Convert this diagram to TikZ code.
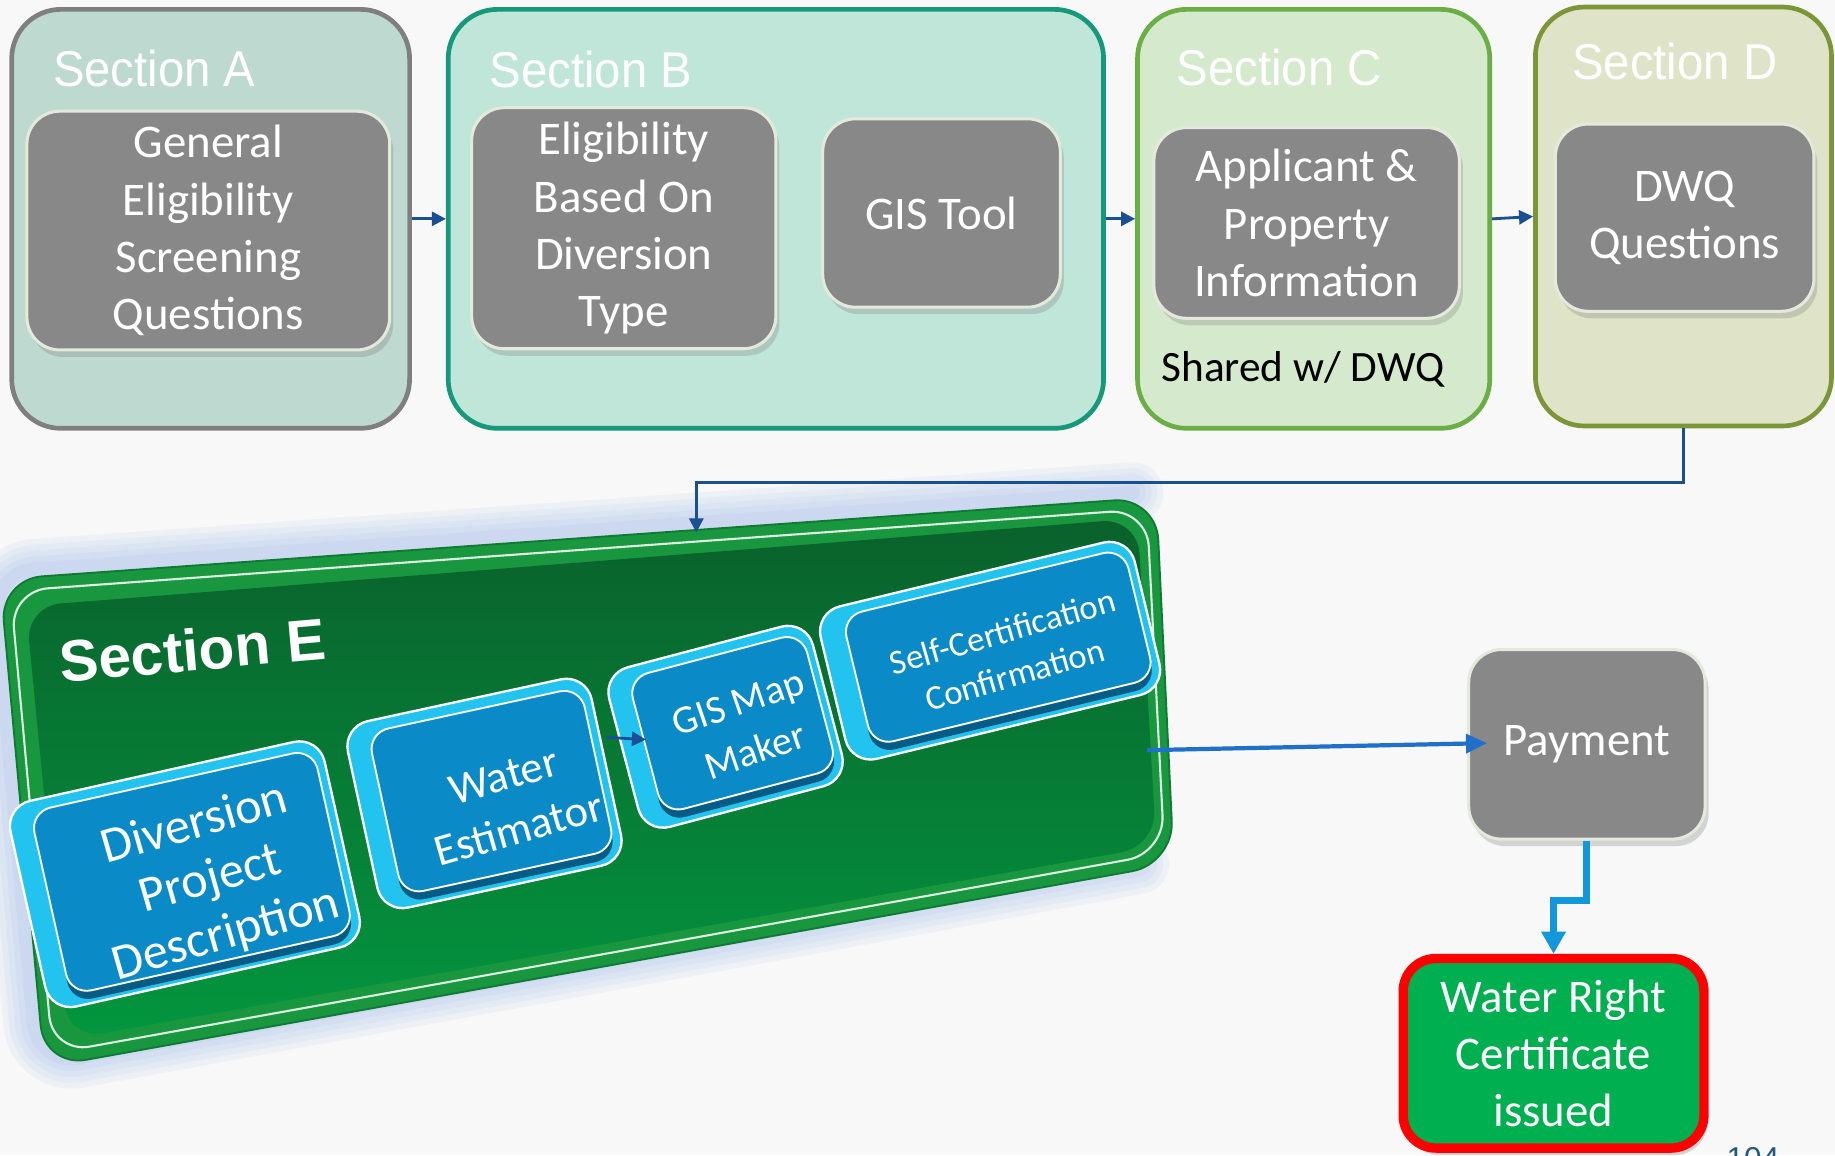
\documentclass[tikz,border=0pt]{standalone}
\usepackage{fontspec}
\setmainfont{Carlito}
\newfontfamily\narrowfont[FakeStretch=0.94]{Liberation Sans}
\newfontfamily\arialfont{Liberation Sans}
\usetikzlibrary{arrows.meta,calc,shadows}
\definecolor{bgcol}{HTML}{F7F8F7}
\definecolor{secAfill}{HTML}{BDD9D0}
\definecolor{secAline}{HTML}{7F7F7F}
\definecolor{secBfill}{HTML}{C0E6DA}
\definecolor{secBline}{HTML}{16997A}
\definecolor{secCfill}{HTML}{D5EACD}
\definecolor{secCline}{HTML}{6AAE45}
\definecolor{secDfill}{HTML}{DFE4C9}
\definecolor{secDline}{HTML}{7C9538}
\definecolor{boxgray}{HTML}{888888}
\definecolor{boxedge}{HTML}{E4EADB}
\definecolor{flowblue}{HTML}{1B4F94}
\definecolor{payblue}{HTML}{1F6FCB}
\definecolor{certblue}{HTML}{1297DB}
\definecolor{certgreen}{HTML}{00B050}
\definecolor{certred}{HTML}{FF0000}
\definecolor{rimgreen}{HTML}{18973F}
\definecolor{rimedge}{HTML}{0E7A33}
\definecolor{facetop}{HTML}{0A612C}
\definecolor{facebot}{HTML}{03963F}
\definecolor{glowblue}{HTML}{3F78E0}
\definecolor{btncyan}{HTML}{22C4EF}
\definecolor{facecyan}{HTML}{0A8BC7}
\definecolor{btndeep}{HTML}{075C86}
\definecolor{numcol}{HTML}{245B7C}
\begin{document}
\begin{tikzpicture}[x=0.5pt,y=-0.5pt,
  secbox/.style={rounded corners=21pt, line width=2pt},
  sectitle/.style={anchor=base west, inner sep=0pt, text=white, font=\narrowfont\fontsize{21.5pt}{21.5pt}\selectfont},
  graybox/.style={fill=boxgray, draw=boxedge, line width=1.3pt, rounded corners=14pt, text=white, align=center, inner sep=2pt, font=\fontsize{20pt}{24.5pt}\selectfont, drop shadow={opacity=0.3, shadow xshift=1.5pt, shadow yshift=-3pt}},
  flow/.style={draw=flowblue, line width=1.2pt, -{Triangle[length=6pt,width=6pt]}},
  btnside/.style={fill=btncyan, draw=white, line width=1pt, rounded corners=11pt},
  btndark/.style={fill=btndeep, rounded corners=9pt},
  btnfacestyle/.style={fill=facecyan, draw=white, line width=0.8pt, rounded corners=9pt},
  btntext/.style={text=white, align=center, inner sep=0pt},
]
\useasboundingbox (0,0) rectangle (1568,987);
\fill[bgcol] (0,0) rectangle (1568,987);

% ---------- Sections A-D ----------
\node[secbox, draw=secAline, fill=secAfill, minimum width=170pt, minimum height=179pt] (A) at (180,187) {};
\node[secbox, draw=secBline, fill=secBfill, minimum width=280pt, minimum height=179pt] (B) at (663,187) {};
\node[secbox, draw=secCline, fill=secCfill, minimum width=150.5pt, minimum height=179pt] (C) at (1122.5,187) {};
\node[secbox, draw=secDline, fill=secDfill, minimum width=126.5pt, minimum height=179pt] (D) at (1438.5,185) {};

\node[sectitle] (Atitle) at (45,74) {Section A};
\node[sectitle] (Btitle) at (418,75) {Section B};
\node[sectitle] (Ctitle) at (1005,73) {Section C};
\node[sectitle] (Dtitle) at (1343,68) {Section D};

\node[graybox, minimum width=155pt, minimum height=102pt] (A1) at (178,197) {General\\Eligibility\\Screening\\Questions};
\node[graybox, minimum width=130pt, minimum height=103pt] (B1) at (533,195) {Eligibility\\Based On\\Diversion\\Type};
\node[graybox, minimum width=101.5pt, minimum height=80.5pt] (B2) at (804.5,182) {GIS Tool};
\node[graybox, minimum width=130.5pt, minimum height=81.5pt] (C1) at (1116.5,190.5) {Applicant \&\\Property\\Information};
\node[graybox, minimum width=110.5pt, minimum height=80pt] (D1) at (1439.5,186) {DWQ\\Questions};

\node[anchor=base west, inner sep=0pt, text=black, font=\fontsize{18.5pt}{18.5pt}\selectfont] (shared) at (992,326) {Shared w/ DWQ};

\draw[flow] (A.east) -- (B.west);
\draw[flow] (B.east) -- (C.west);
\draw[flow] (C.east) -- (D.west);

% ---------- Section E slab ----------
\coordinate (s1) at (0,495);
\coordinate (s2) at (988,425);
\coordinate (s3) at (1003,738);
\coordinate (s4) at (38,912);
\foreach \w in {26,21,16,11,6}{
  \draw[glowblue, opacity=0.05, line width=\w pt, rounded corners=18pt, line join=round, line cap=round]
    ($(s3)+(-30,0)$) -- ($(s4)+(-6,-2)$) -- ($(s1)+(-6,-6)$) -- ($(s2)+(-20,-4)$);
}
\path[fill=rimgreen, draw=rimedge, line width=0.8pt, rounded corners=18pt] (s1) -- (s2) -- (s3) -- (s4) -- cycle;
\draw[white, opacity=0.85, line width=0.9pt, rounded corners=16pt] (9,505) -- (980,435) -- (995,729) -- (45,900) -- cycle;
\shade[top color=facetop, bottom color=facebot, rounded corners=15pt] (22,518) -- (972,443) -- (988,723) -- (58,888) -- cycle;

\node[rotate=5, anchor=base west, inner sep=0pt, text=white, font=\arialfont\bfseries\fontsize{25pt}{25pt}\selectfont] (Etitle) at (52,583) {Section E};

% buttons (right to left so left ones are in front)
% Button 4
\node[btnside, rotate=13.6, minimum width=138pt, minimum height=67pt] (b4side) at (846,556) {};
\node[btndark, rotate=13.6, minimum width=124pt, minimum height=57pt] (b4dark) at (854,560) {};
\node[btnfacestyle, rotate=13.6, minimum width=124pt, minimum height=57pt] (b4face) at (853,553) {};
\node[btntext, rotate=16, font=\fontsize{14.8pt}{19pt}\selectfont] (b4txt) at (862,558) {Self-Certification\\Confirmation};
% Button 3
\node[btnside, rotate=14.8, minimum width=90pt, minimum height=70.5pt] (b3side) at (620,621) {};
\node[btndark, rotate=14.8, minimum width=77pt, minimum height=60pt] (b3dark) at (627,625) {};
\node[btnfacestyle, rotate=14.8, minimum width=77pt, minimum height=60pt] (b3face) at (626,618) {};
\node[btntext, rotate=19, font=\fontsize{17pt}{22pt}\selectfont] (b3txt) at (638,621) {GIS Map\\Maker};
% Button 2
\node[btnside, rotate=12.2, minimum width=106.5pt, minimum height=81.5pt] (b2side) at (414,678) {};
\node[btndark, rotate=12.2, minimum width=93pt, minimum height=71pt] (b2dark) at (421,683) {};
\node[btnfacestyle, rotate=12.2, minimum width=93pt, minimum height=71pt] (b2face) at (420,676) {};
\node[btntext, rotate=16, font=\fontsize{19pt}{23.5pt}\selectfont] (b2txt) at (437,686) {Water\\Estimator};
% Button 1
\node[btnside, rotate=12.6, minimum width=137.5pt, minimum height=90pt] (b1side) at (158,747) {};
\node[btndark, rotate=12.6, minimum width=124pt, minimum height=80pt] (b1dark) at (165,752) {};
\node[btnfacestyle, rotate=12.6, minimum width=124pt, minimum height=80pt] (b1face) at (164,745) {};
\node[btntext, rotate=16, font=\fontsize{21.5pt}{24.5pt}\selectfont] (b1txt) at (180,752) {Diversion\\Project\\Description};

\coordinate (wsOut) at (518,630);
\coordinate (gisIn) at (552,632);
\draw[flow] (wsOut) -- (gisIn);

% ---------- connectors ----------
\coordinate (Etop) at (595,455);
\draw[flow] (D.south) -- ++(0,46) -| (Etop);

\node[graybox, minimum width=101pt, minimum height=81pt] (Pay) at (1356,636) {Payment};
\node[fill=certgreen, draw=certred, line width=4pt, rounded corners=14pt, text=white, align=center, inner sep=2pt,
      font=\fontsize{20pt}{24.5pt}\selectfont, minimum width=128.5pt, minimum height=81pt,
      drop shadow={opacity=0.3, shadow xshift=1.5pt, shadow yshift=-3pt}] (WR) at (1327.5,900) {Water Right\\Certificate\\issued};

\coordinate (Eout) at (980,641);
\draw[payblue, line width=1.8pt, -{Triangle[length=9pt,width=8pt]}] (Eout) -- ($(Pay.west)+(17,-1)$);
\draw[certblue, line width=3pt, -{Triangle[length=9.5pt,width=10pt]}] (Pay.south) -- ++(0,51) -| (WR.north);

\node[anchor=north west, inner sep=0pt, text=numcol, font=\arialfont\fontsize{13.5pt}{13.5pt}\selectfont] (pnum) at (1475,980) {104};
\end{tikzpicture}
\end{document}
